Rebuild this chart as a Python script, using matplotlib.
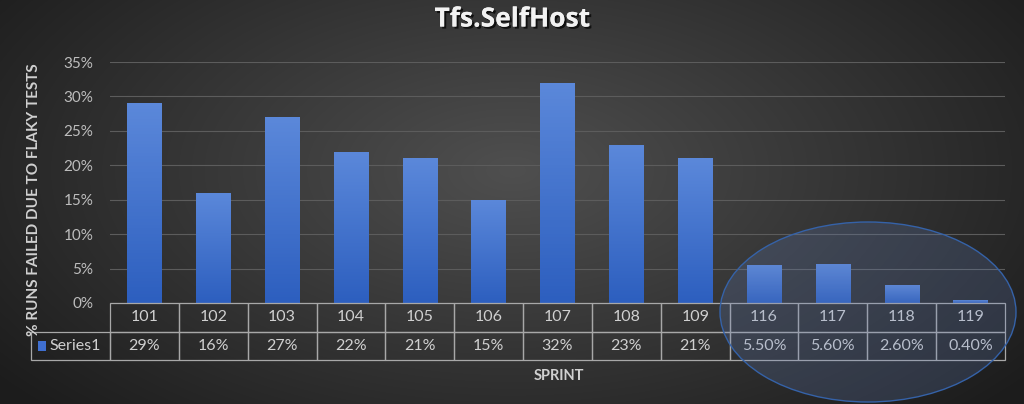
import matplotlib
matplotlib.use("Agg")
import matplotlib.pyplot as plt
import matplotlib.patches as mpatches
import matplotlib.patheffects as pe
import matplotlib.transforms as mtransforms
import numpy as np

sprints = ["101", "102", "103", "104", "105", "106", "107", "108", "109",
           "116", "117", "118", "119"]
fail_pct = [29, 16, 27, 22, 21, 15, 32, 23, 21, 5.5, 5.6, 2.6, 0.4]
pct_labels = ["29%", "16%", "27%", "22%", "21%", "15%", "32%", "23%", "21%",
              "5.50%", "5.60%", "2.60%", "0.40%"]
yticks = [0, 5, 10, 15, 20, 25, 30, 35]
series_name = "Series1"

FONT = "Lato"
TXT = "#d0d0d0"
GRID = "#5c5c5c"
CELL_EDGE = "#a8a8a8"
BAR_TOP = "#5b88da"
BAR_BOT = "#2d5fbf"

W, H = 1024, 404
fig = plt.figure(figsize=(W / 100, H / 100), dpi=100)

# ── 배경: 가운데가 밝은 방사형 그라데이션 ──────────────────────────────
bg_ax = fig.add_axes([0, 0, 1, 1])
yy, xx = np.mgrid[0:H, 0:W]
r = np.sqrt(((xx - 512) / 620.0) ** 2 + ((yy - 170) / 330.0) ** 2)
shade = np.clip(0.31 - 0.19 * r, 0.11, 0.31)
bg_ax.imshow(np.dstack([shade] * 3), extent=[0, 1, 0, 1], aspect="auto")
bg_ax.axis("off")

# ── 플롯 영역 ──────────────────────────────────────────────────────────
x0, x1 = 110, 1005
y_top, y_zero = 62, 303
ax = fig.add_axes([x0 / W, (H - y_zero) / H, (x1 - x0) / W, (y_zero - y_top) / H])
ax.patch.set_alpha(0)
ax.set_yticks(yticks)
ax.set_yticklabels([f"{v}%" for v in yticks], color="#bdbdbd",
                   fontsize=11, family=FONT)
ax.set_xticks([])
ax.tick_params(axis="y", length=0, pad=12)
for s in ax.spines.values():
    s.set_visible(False)
ax.grid(axis="y", color=GRID, linewidth=0.8)
ax.set_axisbelow(True)

bars = ax.bar(range(len(sprints)), fail_pct, width=0.5, color=BAR_BOT, zorder=2)
grad = np.linspace(0, 1, 64).reshape(-1, 1)
cmap = matplotlib.colors.LinearSegmentedColormap.from_list("bar", [BAR_BOT, BAR_TOP])
for b in bars:
    im = ax.imshow(grad, cmap=cmap, origin="lower", aspect="auto", zorder=3,
                   extent=[b.get_x(), b.get_x() + b.get_width(), 0, b.get_height()])
    im.set_clip_path(b)
ax.set_xlim(-0.5, len(sprints) - 0.5)
ax.set_ylim(0, 35)

# ── 데이터 표 (x: 데이터 좌표, y: axes 좌표) ───────────────────────────
trans = mtransforms.blended_transform_factory(ax.transData, ax.transAxes)
row_h = 28.5 / (y_zero - y_top)
for i, (lab, val) in enumerate(zip(sprints, pct_labels)):
    for k, txt in enumerate([lab, val]):
        yb = -(k + 1) * row_h
        ax.add_patch(mpatches.Rectangle((i - 0.5, yb), 1, row_h, transform=trans,
                                        fill=False, edgecolor=CELL_EDGE,
                                        linewidth=0.9, clip_on=False, zorder=4))
        ax.text(i, yb + row_h / 2, txt, transform=trans, ha="center", va="center",
                color=TXT, fontsize=11.5, family=FONT, clip_on=False)

# Series1 범례 셀
lx = (31 - x0) / (x1 - x0)
ax.add_patch(mpatches.Rectangle((lx, -2 * row_h), -lx, row_h, transform=ax.transAxes,
                                fill=False, edgecolor=CELL_EDGE, linewidth=0.9,
                                clip_on=False, zorder=4))
ax.add_patch(mpatches.Rectangle((lx + 0.008, -1.5 * row_h - 0.02), 0.009, 0.04,
                                transform=ax.transAxes, facecolor="#3f6fd0",
                                edgecolor="none", clip_on=False, zorder=5))
ax.text(lx + 0.021, -1.5 * row_h, series_name, transform=ax.transAxes,
        ha="left", va="center", color=TXT, fontsize=11.5, family=FONT, clip_on=False)

# ── 강조 타원 ──────────────────────────────────────────────────────────
ell = mpatches.Ellipse((868 / W, (H - 312) / H), 296 / W, 180 / H,
                       transform=fig.transFigure, facecolor="#6482c0", alpha=0.22,
                       edgecolor="none", zorder=10)
fig.add_artist(ell)
ell_edge = mpatches.Ellipse((868 / W, (H - 312) / H), 296 / W, 180 / H,
                            transform=fig.transFigure, fill=False,
                            edgecolor="#3562a8", linewidth=1.0, zorder=11)
fig.add_artist(ell_edge)

# ── 텍스트 ────────────────────────────────────────────────────────────
fig.text(0.5, (H - 19) / H, "Tfs.SelfHost", ha="center", va="center",
         color="#f2f2f2", fontsize=19, fontweight="bold", family="Open Sans",
         path_effects=[pe.withSimplePatchShadow(offset=(1.5, -1.5),
                                                shadow_rgbFace="black", alpha=0.7),
                       pe.Normal()])
fig.text(34 / W, (H - 200) / H, "% RUNS FAILED DUE TO FLAKY TESTS", rotation=90,
         ha="center", va="center", color=TXT, fontsize=11, fontweight="bold",
         family=FONT)
fig.text(559 / W, (H - 376) / H, "SPRINT", ha="center", va="center",
         color=TXT, fontsize=10.5, fontweight="bold", family=FONT)

fig.savefig("out.png", dpi=100)
